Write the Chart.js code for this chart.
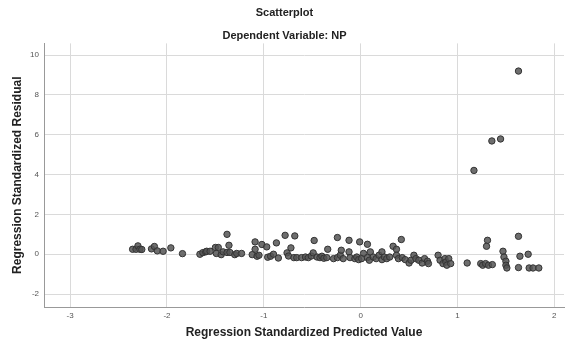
<!DOCTYPE html>
<html lang="en">
<head>
  <meta charset="UTF-8">
  <title>Scatterplot</title>
  <script src="https://cdn.jsdelivr.net/npm/chart.js"></script>
  <style>
    body {
      margin: 0;
      background: #fff;
    }
  </style>
</head>
<body>
  <canvas id="scatter" width="569" height="344"></canvas>

  <script>
    // values (standardized predicted vs standardized residual)
    const predicted = [
      -2.355, -2.32, -2.30, -2.28, -2.26, -2.16, -2.13, -2.10, -2.04, -1.96,
      -1.84, -1.66, -1.63, -1.60, -1.59, -1.555, -1.50, -1.47, -1.49, -1.44,
      -1.42, -1.38, -1.36, -1.38, -1.35, -1.30, -1.28, -1.23, -1.12, -1.09,
      -1.09, -1.07, -1.05, -1.02, -0.97, -0.96, -0.93, -0.90, -0.87, -0.85,
      -0.78, -0.76, -0.745, -0.72, -0.68, -0.69, -0.66, -0.61, -0.57, -0.54,
      -0.51, -0.48, -0.49, -0.45, -0.42, -0.40, -0.38, -0.34, -0.35, -0.28,
      -0.24, -0.24, -0.21, -0.20, -0.18, -0.12, -0.12, -0.11, -0.06, -0.04,
      -0.01, -0.02, 0.03, 0.01, 0.07, 0.07, 0.09, 0.10, 0.13, 0.16,
      0.19, 0.22, 0.22, 0.245, 0.27, 0.30, 0.335, 0.37, 0.42, 0.37,
      0.39, 0.43, 0.46, 0.50, 0.52, 0.55, 0.57, 0.60, 0.635, 0.66,
      0.69, 0.70, 0.80, 0.82, 0.85, 0.87, 0.88, 0.89, 0.91, 0.93,
      1.10, 1.17, 1.24, 1.26, 1.29, 1.32, 1.36, 1.31, 1.30, 1.355,
      1.445, 1.47, 1.48, 1.50, 1.50, 1.51, 1.63, 1.63, 1.645, 1.73,
      1.63, 1.74, 1.78, 1.84
    ];
    const residual = [
      0.25, 0.25, 0.42, 0.25, 0.24, 0.27, 0.39, 0.17, 0.15, 0.32,
      0.03, 0.00, 0.08, 0.12, 0.15, 0.15, 0.34, 0.34, 0.04, -0.02,
      0.12, 1.00, 0.45, 0.09, 0.09, -0.02, 0.04, 0.04, -0.02, 0.62,
      0.25, -0.10, -0.05, 0.49, 0.37, -0.15, -0.10, 0.00, 0.57, -0.19,
      0.95, 0.07, -0.09, 0.32, 0.92, -0.17, -0.17, -0.17, -0.14, -0.17,
      -0.09, 0.69, 0.07, -0.14, -0.17, -0.10, -0.20, 0.25, -0.17, -0.22,
      0.84, -0.17, -0.05, 0.20, -0.22, 0.70, 0.12, -0.17, -0.22, -0.14,
      0.62, -0.27, 0.04, -0.22, 0.50, -0.17, -0.30, 0.12, -0.14, -0.22,
      -0.05, 0.12, -0.27, -0.14, -0.22, -0.14, 0.40, 0.25, 0.74, -0.05,
      -0.22, -0.17, -0.27, -0.44, -0.30, -0.05, -0.22, -0.30, -0.44, -0.22,
      -0.35, -0.47, -0.05, -0.30, -0.47, -0.22, -0.39, -0.55, -0.22, -0.47,
      -0.44, 4.21, -0.47, -0.55, -0.47, -0.55, -0.52, 0.70, 0.40, 5.69,
      5.79, 0.15, -0.14, -0.35, -0.55, -0.69, 9.20, 0.90, -0.10, 0.00,
      -0.67, -0.69, -0.69, -0.69
    ];
    const xTicks = [-3, -2, -1, 0, 1, 2];
    const yTicks = [-2, 0, 2, 4, 6, 8, 10];

    const points = predicted.map((x, i) => ({ x: x, y: residual[i] }));
    const font = 'Liberation Sans, Arial, sans-serif';

    const keepTicks = list => scale => {
      scale.ticks = list.map(v => ({ value: v }));
    };

    new Chart(document.getElementById('scatter'), {
      type: 'scatter',
      data: {
        datasets: [{
          data: points,
          pointRadius: 3.2,
          pointBackgroundColor: 'rgba(85,85,85,0.85)',
          pointBorderColor: '#333',
          pointBorderWidth: 1
        }]
      },
      options: {
        responsive: false,
        animation: false,
        layout: { padding: 0 },
        plugins: {
          legend: { display: false },
          tooltip: { enabled: false },
          title: {
            display: true,
            text: 'Scatterplot',
            color: '#222',
            font: { family: font, size: 11, weight: 'bold' },
            padding: { top: 6, bottom: 4 }
          },
          subtitle: {
            display: true,
            text: 'Dependent Variable: NP',
            color: '#222',
            font: { family: font, size: 11, weight: 'bold' },
            padding: { top: 6, bottom: 1 }
          }
        },
        scales: {
          x: {
            type: 'linear',
            min: -3.27,
            max: 2.10,
            afterBuildTicks: keepTicks(xTicks),
            afterFit: s => { s.height = 37; },
            grid: { color: '#dadada', drawTicks: false },
            border: { color: '#999', width: 1 },
            ticks: { color: '#555', font: { family: font, size: 8 }, padding: 4 },
            title: {
              display: true,
              text: 'Regression Standardized Predicted Value',
              color: '#222',
              font: { family: font, size: 12, weight: 'bold' },
              padding: { top: 4, bottom: 4 }
            }
          },
          y: {
            min: -2.65,
            max: 10.59,
            afterBuildTicks: keepTicks(yTicks),
            afterFit: s => { s.width = 44; },
            grid: { color: '#dadada', drawTicks: false },
            border: { color: '#999', width: 1 },
            ticks: { color: '#555', font: { family: font, size: 8 }, padding: 5 },
            title: {
              display: true,
              text: 'Regression Standardized Residual',
              color: '#222',
              font: { family: font, size: 12, weight: 'bold' },
              padding: { top: 10, bottom: 4 }
            }
          }
        }
      }
    });
  </script>
</body>
</html>
